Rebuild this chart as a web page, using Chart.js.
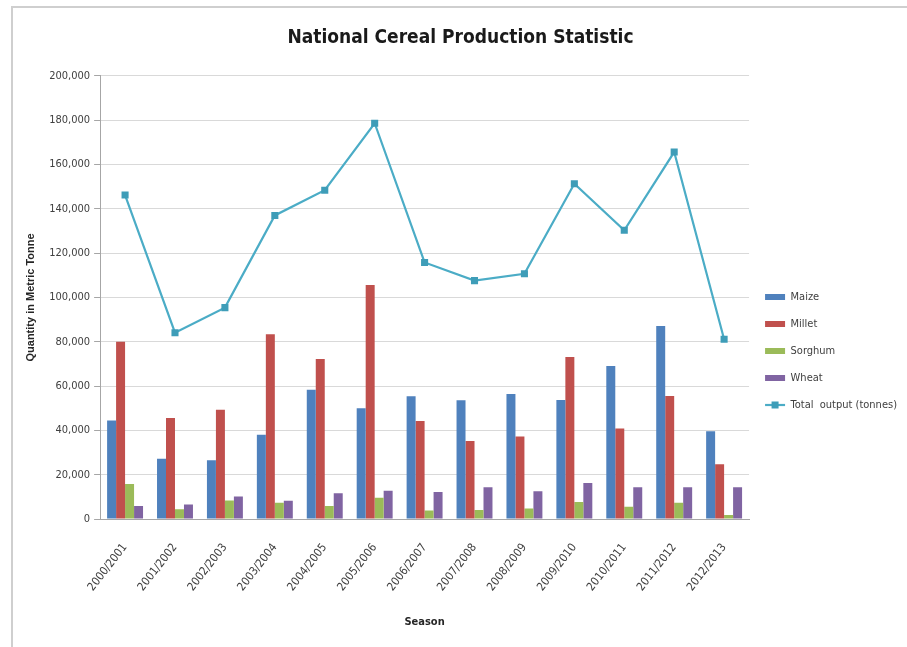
<!DOCTYPE html>
<html>
<head>
<meta charset="utf-8">
<title>National Cereal Production Statistic</title>
<script src="https://cdn.jsdelivr.net/npm/chart.js@4.4.1/dist/chart.umd.min.js"></script>
<style>
  html, body { margin: 0; padding: 0; background: #fff; }
  #wrap { position: relative; width: 907px; height: 647px; }
  /* frame of the cropped screenshot */
  #frame { position: absolute; left: 11px; top: 6px; right: 0; bottom: 0;
           border-top: 2px solid #cfcfcf; border-left: 2px solid #cfcfcf; }
  canvas { position: absolute; left: 0; top: 0; }
</style>
</head>
<body>
<div id="wrap">
  <div id="frame"></div>
  <canvas id="chart" width="907" height="647"></canvas>
</div>
<script>
// Seasons (x axis)
const seasons = ['2000/2001', '2001/2002', '2002/2003', '2003/2004', '2004/2005', '2005/2006',
  '2006/2007', '2007/2008', '2008/2009', '2009/2010', '2010/2011', '2011/2012', '2012/2013'];

// Production per crop, metric tonnes
const maize   = [44500, 27200, 26500, 38000, 58400, 50000, 55400, 53600, 56400, 53700, 69100, 87100, 39600];
const millet  = [80000, 45600, 49300, 83400, 72200, 105600, 44200, 35200, 37200, 73100, 40900, 55500, 24700];
const sorghum = [15800, 4400, 8400, 7400, 5900, 9600, 3900, 4100, 4800, 7700, 5600, 7400, 1800];
const wheat   = [5900, 6600, 10200, 8300, 11600, 12800, 12200, 14400, 12500, 16300, 14400, 14400, 14400];
const totalOutput = [146200, 84100, 95400, 137000, 148400, 178600, 115800, 107600, 110700, 151300, 130300, 165600, 81100];

const yMax = 200000;
const yStep = 20000;

const FONT = "'Liberation Sans Narrow', 'DejaVu Sans Condensed', 'Liberation Sans', sans-serif";
const C = {
  maize: '#4F81BD',
  millet: '#C0504D',
  sorghum: '#9BBB59',
  wheat: '#8064A2',
  total: '#4BACC6',
  totalMarker: '#3E9DB8',
  text: '#404040',
  grid: '#d9d9d9',
  axis: '#a6a6a6',
};

// draws the square marker on top of the line legend item (Excel style)
const legendMarker = {
  id: 'legendMarker',
  afterDraw(chart) {
    const legend = chart.legend;
    if (!legend || !legend.legendHitBoxes) return;
    const idx = legend.legendItems.findIndex(it => it.datasetIndex === 4);
    const box = legend.legendHitBoxes[idx];
    if (!box) return;
    const ctx = chart.ctx;
    const cx = box.left + 10;
    const cy = box.top + box.height / 2;
    ctx.save();
    ctx.fillStyle = C.totalMarker;
    ctx.fillRect(cx - 3.5, cy - 3.5, 7, 7);
    ctx.restore();
  }
};

const bar = (label, data, color) => ({
  type: 'bar', label, data,
  backgroundColor: color, borderWidth: 0,
  categoryPercentage: 0.72, barPercentage: 1.0, order: 2,
});

new Chart(document.getElementById('chart').getContext('2d'), {
  data: {
    labels: seasons,
    datasets: [
      bar('Maize', maize, C.maize),
      bar('Millet', millet, C.millet),
      bar('Sorghum', sorghum, C.sorghum),
      bar('Wheat', wheat, C.wheat),
      {
        type: 'line', label: 'Total  output (tonnes)', data: totalOutput,
        borderColor: C.total, backgroundColor: C.totalMarker,
        borderWidth: 2.2, tension: 0, order: 1,
        pointStyle: 'rect', pointRadius: 5, pointBorderWidth: 0,
        pointBackgroundColor: C.totalMarker,
      },
    ]
  },
  options: {
    responsive: false,
    animation: false,
    layout: { padding: { left: 14, right: 0, top: 14, bottom: 18 } },
    plugins: {
      title: {
        display: true,
        text: 'National Cereal Production Statistic',
        color: '#1a1a1a',
        font: { family: FONT, size: 19, weight: 'bold' },
        padding: { top: 13, bottom: 26 },
      },
      legend: {
        position: 'right',
        // empty title only pushes the centred items down, like in the original
        title: { display: true, text: '', font: { size: 10 }, padding: { top: 47, bottom: 0 } },
        labels: {
          color: C.text,
          font: { family: FONT, size: 11 },
          padding: 16,
          usePointStyle: true,
          pointStyleWidth: 20,
          boxHeight: 6,
          generateLabels(chart) {
            const items = Chart.defaults.plugins.legend.labels.generateLabels(chart);
            items.sort((a, b) => a.datasetIndex - b.datasetIndex);
            items.forEach(it => {
              if (it.datasetIndex === 4) {
                it.pointStyle = 'line';
                it.strokeStyle = C.total;
                it.lineWidth = 2.2;
              } else {
                it.pointStyle = 'rect';
                it.lineWidth = 0;
              }
            });
            return items;
          }
        }
      },
      tooltip: { enabled: false },
    },
    scales: {
      x: {
        grid: { display: false, drawTicks: false },
        border: { color: C.axis },
        ticks: {
          color: C.text, font: { family: FONT, size: 11.5 },
          minRotation: 52, maxRotation: 52, padding: 22, autoSkip: false,
        },
        title: {
          display: true, text: 'Season', color: '#262626',
          font: { family: FONT, size: 11, weight: 'bold' },
          padding: { top: 0, bottom: 0 },
        },
      },
      y: {
        min: 0, max: yMax,
        grid: { color: C.grid, tickLength: 6, tickColor: C.axis },
        border: { color: C.axis },
        ticks: {
          stepSize: yStep, color: C.text, font: { family: FONT, size: 11 },
          padding: 4,
          callback: v => v.toLocaleString('en-US'),
        },
        title: {
          display: true, text: 'Quantity in Metric Tonne', color: '#262626',
          font: { family: "'Liberation Sans', Arial, sans-serif", size: 11, weight: 'bold' },
          padding: { top: 10, bottom: 8 },
        },
      }
    }
  },
  plugins: [legendMarker]
});
</script>
</body>
</html>
